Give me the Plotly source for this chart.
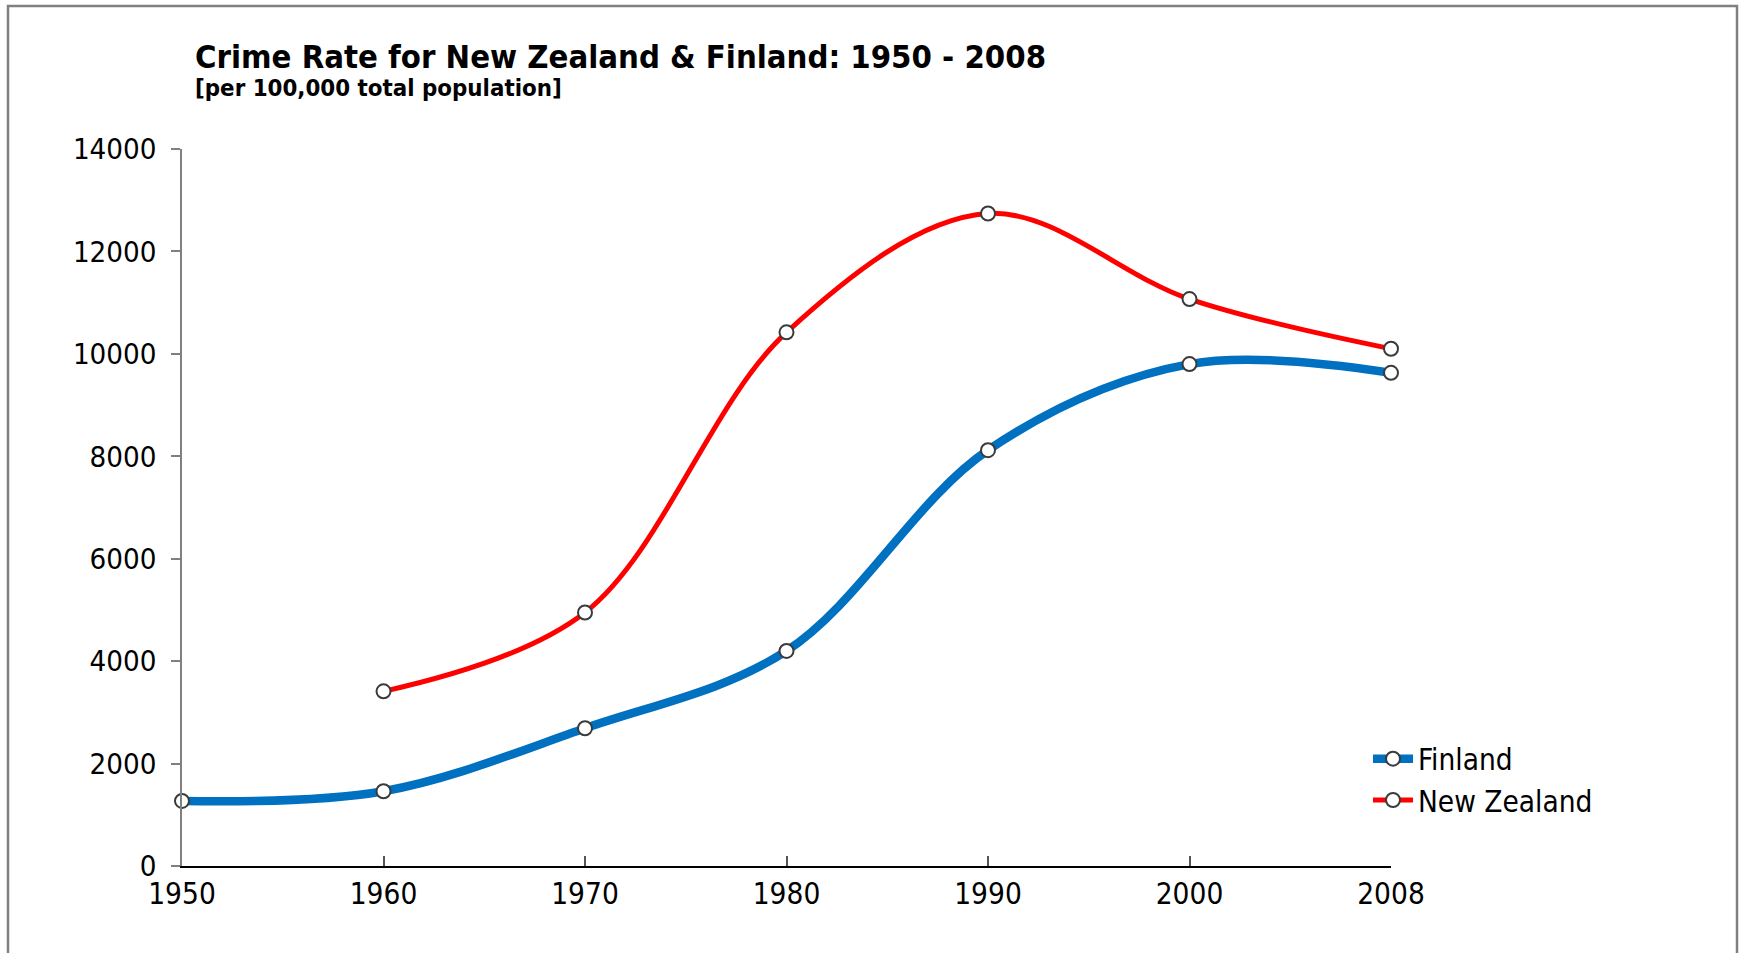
import plotly.graph_objects as go

years = ["1950", "1960", "1970", "1980", "1990", "2000", "2008"]
finland = [1270, 1460, 2690, 4200, 8120, 9800, 9630]
nz_years = ["1960", "1970", "1980", "1990", "2000", "2008"]
new_zealand = [3410, 4950, 10420, 12740, 11070, 10100]
y_ticks = [0, 2000, 4000, 6000, 8000, 10000, 12000, 14000]

W, H = 1741, 953
L, R = 182, 1391
T, B = 149, 866
pw, ph = R - L, B - T

def px(x):
    return (x - L) / pw

def py(y):
    return (B - y) / ph

FONT = "DejaVu Sans Condensed, Noto Sans, DejaVu Sans, sans-serif"

fig = go.Figure()
fig.add_trace(go.Scatter(
    x=years, y=finland, name="Finland", mode="lines+markers",
    cliponaxis=False,
    line=dict(color="#0070C0", width=8.5, shape="spline", smoothing=1),
    marker=dict(symbol="circle", size=14, color="white",
                line=dict(color="#3a3a3a", width=2)),
))
fig.add_trace(go.Scatter(
    x=nz_years, y=new_zealand, name="New Zealand", mode="lines+markers",
    cliponaxis=False,
    line=dict(color="#FF0000", width=5, shape="spline", smoothing=1),
    marker=dict(symbol="circle", size=14, color="white",
                line=dict(color="#3a3a3a", width=2)),
))

fig.update_layout(
    width=W, height=H,
    margin=dict(l=L, r=W - R, t=T, b=H - B, pad=0),
    paper_bgcolor="white", plot_bgcolor="white",
    font=dict(family=FONT, color="black", size=29),
    showlegend=True,
    legend=dict(x=px(1368), y=py(733), xanchor="left", yanchor="top",
                font=dict(size=29.5, family=FONT), bgcolor="rgba(0,0,0,0)",
                itemwidth=40, tracegroupgap=0),
    xaxis=dict(type="category", categoryorder="array", categoryarray=years,
               range=[0, 6], showgrid=False, zeroline=False,
               showline=True, linecolor="black", linewidth=1.5,
               ticks="inside", ticklen=10, tickcolor="#555555", tickwidth=1.5,
               tickfont=dict(size=29.5, family=FONT), ticklabelstandoff=1),
    yaxis=dict(range=[0, 14000], tickvals=y_ticks, tickformat="d",
               showgrid=False, zeroline=False, showline=True,
               linecolor="#808080", linewidth=1.5, ticks="outside", ticklen=9,
               tickcolor="#808080", tickwidth=1.5,
               tickfont=dict(size=29.2, family=FONT), ticklabelstandoff=9),
    shapes=[dict(type="rect", xref="paper", yref="paper",
                 x0=px(8), x1=px(1737), y0=py(980), y1=py(6),
                 line=dict(color="#808080", width=2.5),
                 fillcolor="rgba(0,0,0,0)", layer="below")],
    annotations=[
        dict(text="<b>Crime Rate for New Zealand &amp; Finland: 1950 - 2008</b>",
             xref="paper", yref="paper", x=px(193), y=py(57),
             xanchor="left", yanchor="middle", showarrow=False,
             font=dict(size=32.6, family=FONT, color="black")),
        dict(text="<b>[per 100,000 total population]</b>",
             xref="paper", yref="paper", x=px(193), y=py(88),
             xanchor="left", yanchor="middle", showarrow=False,
             font=dict(size=23.8, family=FONT, color="black")),
    ],
)

fig.write_html(
    "out.html",
    config={"displayModeBar": False},
    post_script="document.body.style.margin='0';document.body.style.padding='0';document.body.style.overflow='hidden';",
)
